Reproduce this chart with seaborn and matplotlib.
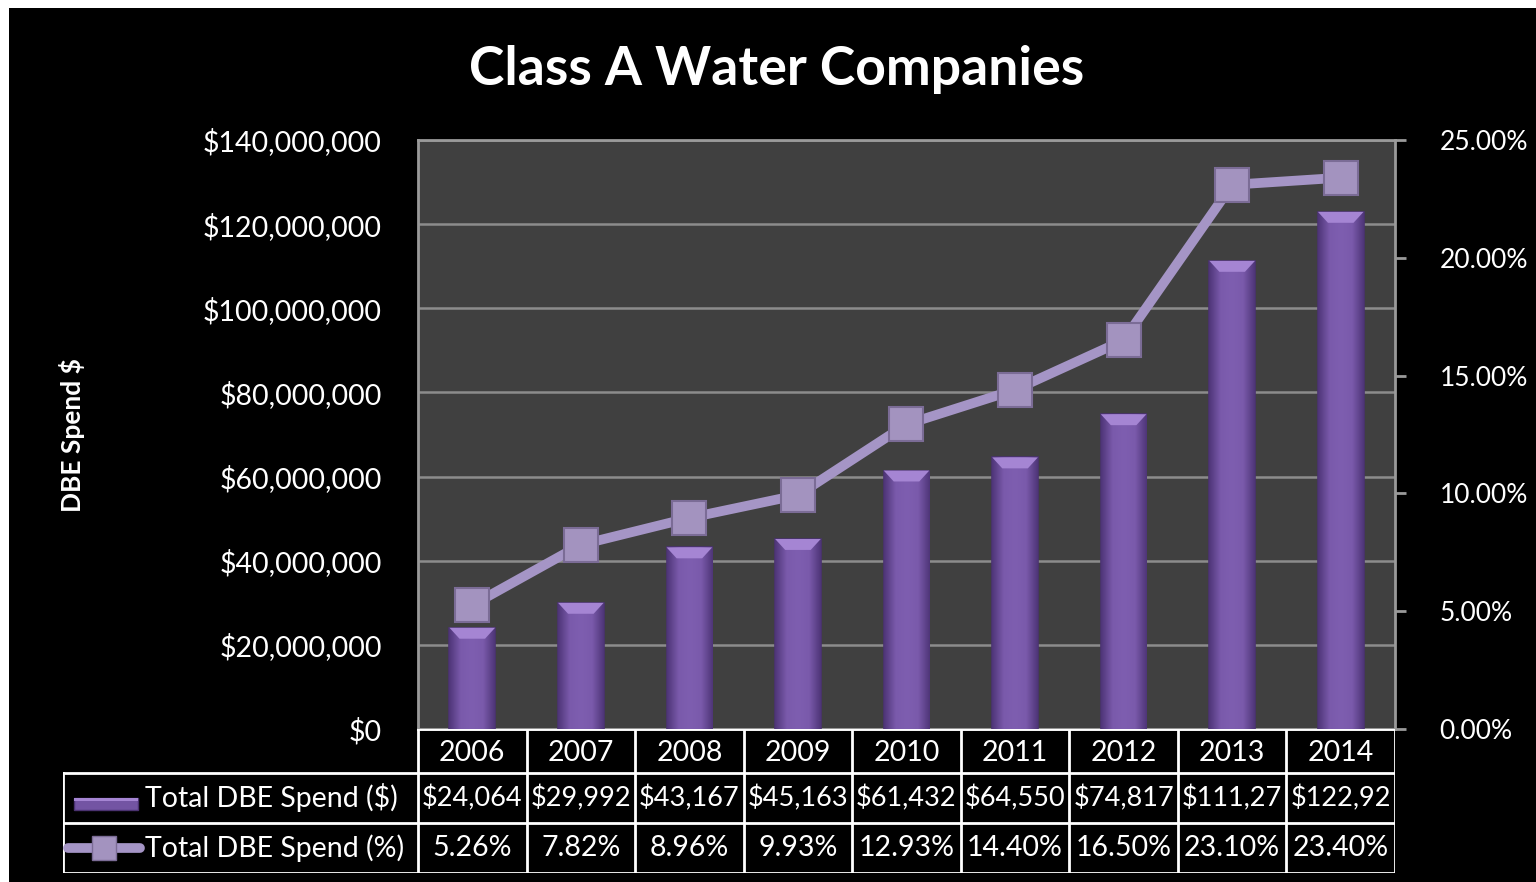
import numpy as np
import pandas as pd
import matplotlib
matplotlib.use('Agg')
import matplotlib.pyplot as plt
from matplotlib.patches import Rectangle, Polygon
from matplotlib.colors import LinearSegmentedColormap
from matplotlib.ticker import FuncFormatter
import seaborn as sns

# data
years = ['2006', '2007', '2008', '2009', '2010', '2011', '2012', '2013', '2014']
spend = [24_064_000, 29_992_000, 43_167_000, 45_163_000, 61_432_000,
         64_550_000, 74_817_000, 111_270_000, 122_920_000]
spend_pct = [5.26, 7.82, 8.96, 9.93, 12.93, 14.40, 16.50, 23.10, 23.40]
# table cells as shown (the $ column is cut off by the cell width)
spend_cells = ['$24,064', '$29,992', '$43,167', '$45,163', '$61,432',
               '$64,550', '$74,817', '$111,27', '$122,92']
pct_cells = ['5.26%', '7.82%', '8.96%', '9.93%', '12.93%', '14.40%',
             '16.50%', '23.10%', '23.40%']
row_labels = ['Total DBE Spend ($)', 'Total DBE Spend (%)']

df = pd.DataFrame({'year': years, 'spend': spend, 'pct': spend_pct})

sns.set_style('dark')
plt.rcParams['font.family'] = ['Lato', 'DejaVu Sans']

W, H = 1536, 882
fig = plt.figure(figsize=(15.36, 8.82), dpi=100)
fig.patch.set_facecolor('white')
fig.add_artist(Rectangle((9 / W, 0), 1 - 9 / W, 1 - 8 / H, transform=fig.transFigure,
                         facecolor='black', edgecolor='none', zorder=-10))

ax = fig.add_axes([418 / W, 1 - 729 / H, 977 / W, 589 / H])
ax.set_facecolor('#404040')

bar_purple = '#7354A3'
sns.barplot(data=df, x='year', y='spend', ax=ax, color=bar_purple, width=0.42,
            saturation=1, edgecolor='#4a3270', linewidth=1.2, zorder=3)

# give the bars a rounded / bevelled look
grad = LinearSegmentedColormap.from_list('bar', ['#4f3679', '#7a5aab', '#7e5eb0', '#7a5aab', '#4f3679'])
for p in ax.patches:
    x0, w, h = p.get_x(), p.get_width(), p.get_height()
    img = ax.imshow(np.linspace(0, 1, 64).reshape(1, -1), cmap=grad, aspect='auto',
                    extent=(x0, x0 + w, 0, h), zorder=3.1)
    img.set_clip_path(p)
    d = 2.6e6
    ax.add_patch(Polygon([(x0, h), (x0 + w, h), (x0 + w * 0.78, h - d), (x0 + w * 0.22, h - d)],
                         closed=True, facecolor='#a585d3', edgecolor='none', zorder=3.2))

ax.set_ylim(0, 140_000_000)
ax.set_yticks(np.arange(0, 140_000_001, 20_000_000))
ax.yaxis.set_major_formatter(FuncFormatter(lambda v, _: f'${v:,.0f}'))
ax.yaxis.grid(True, color='#8c8c8c', lw=1.8)
ax.xaxis.grid(False)
ax.set_axisbelow(True)
ax.tick_params(axis='y', length=0, labelcolor='white', labelsize=20.5, pad=26)
ax.tick_params(axis='x', bottom=False, labelbottom=False)
ax.set_xlabel('')
ax.set_ylabel('')
for s in ax.spines.values():
    s.set_visible(True)
    s.set_color('#9a9a9a')
    s.set_linewidth(2)

ax2 = ax.twinx()
sns.lineplot(x=np.arange(len(years)), y=spend_pct, ax=ax2, color='#a595c6', lw=7,
             marker='s', markersize=24, markerfacecolor='#a393bf',
             markeredgecolor='#7b6c96', markeredgewidth=1.5, zorder=5)
ax2.set_ylim(0, 25)
ax2.set_yticks(np.arange(0, 26, 5))
ax2.yaxis.set_major_formatter(FuncFormatter(lambda v, _: f'{v:.2f}%'))
ax2.tick_params(axis='y', direction='out', length=8, width=2, color='#9a9a9a',
                labelcolor='white', labelsize=19, pad=24)
ax2.grid(False)
for s in ax2.spines.values():
    s.set_visible(False)
ax.set_xlim(-0.5, len(years) - 0.5)

fig.text(777 / W, 1 - 70 / H, 'Class A Water Companies', ha='center', va='center',
         color='white', fontsize=38.5, fontweight='bold')
fig.text(72 / W, 1 - 435 / H, 'DBE Spend $', ha='center', va='center', rotation=90,
         color='white', fontsize=19, fontweight='bold')

# data table under the plot
col_px = 977 / len(years)
tax = fig.add_axes([63 / W, 1 - 873 / H, (1395 - 63) / W, 144 / H])
x_left = -0.5 - (418 - 63) / col_px
x_right = len(years) - 0.5
tax.set_xlim(x_left, x_right)
tax.set_ylim(0, 144)
tax.axis('off')

lc = dict(color='white', lw=2, solid_capstyle='projecting')
tax.plot([-0.5, x_right], [144, 144], **lc)
for yy in [100, 50, 0]:
    tax.plot([x_left, x_right], [yy, yy], **lc)
tax.plot([x_left, x_left], [0, 100], **lc)
for i in range(len(years) + 1):
    tax.plot([i - 0.5, i - 0.5], [0, 144], **lc)

tfs = 20.5
for i, yr in enumerate(years):
    tax.text(i, 120, yr, ha='center', va='center', color='white', fontsize=tfs)
    tax.text(i, 75, spend_cells[i], ha='center', va='center', color='white', fontsize=19.5)
    tax.text(i, 25, pct_cells[i], ha='center', va='center', color='white', fontsize=tfs)

lab_x = -0.5 - (418 - 145) / col_px
tax.text(lab_x, 75, row_labels[0], ha='left', va='center', color='white', fontsize=tfs)
tax.text(lab_x, 25, row_labels[1], ha='left', va='center', color='white', fontsize=tfs)

# legend keys inside the row labels
kx0 = -0.5 - (418 - 74) / col_px
kx1 = -0.5 - (418 - 138) / col_px
tax.add_patch(Rectangle((kx0, 63), kx1 - kx0, 12, facecolor=bar_purple, edgecolor='#4a3270'))
tax.add_patch(Rectangle((kx0, 72), kx1 - kx0, 3, facecolor='#a585d3', edgecolor='none'))
lx0 = -0.5 - (418 - 68) / col_px
lx1 = -0.5 - (418 - 140) / col_px
tax.plot([lx0, lx1], [25, 25], color='#a595c6', lw=7, solid_capstyle='round')
tax.plot([(lx0 + lx1) / 2], [25], marker='s', markersize=17, color='#a393bf',
         markeredgecolor='#7b6c96')

fig.savefig('out.png', dpi=100, facecolor=fig.get_facecolor())
